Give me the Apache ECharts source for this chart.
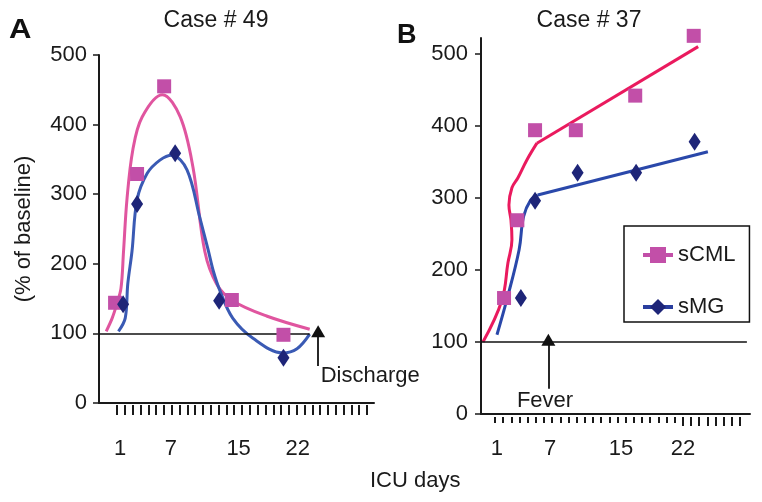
<!DOCTYPE html>
<html><head><meta charset="utf-8">
<script src="https://cdn.jsdelivr.net/npm/echarts@6/dist/echarts.min.js"></script>
<style>html,body{margin:0;padding:0;background:#fff}#c{width:762px;height:502px}</style>
</head><body><div id="c"></div>
<script>
const FONT = '"Liberation Sans", Arial, Helvetica, sans-serif';
const TXT = '#1a1a1a';

// shared tick labels
const yTickValues = [0, 100, 200, 300, 400, 500];
const xTickLabels = [1, 7, 15, 22];

// ---------- Panel A: Case # 49 ----------
const aCmlDays = [0.4, 3.0, 6.2, 14.2, 20.3];
const aCmlVals = [144, 329, 455, 148, 98];
const aMgDays  = [1.35, 3.0, 7.5, 12.7, 20.3];
const aMgVals  = [142, 286, 359, 147, 65];
// fitted curves
const aCmlFitDays = [-0.65, 0.06, 0.6, 1.1, 1.4, 1.8, 2.5, 3.6, 6.0, 8.1, 9.6, 11.0, 12.4, 14.3, 18.3, 23.4];
const aCmlFitVals = [103, 122, 142, 165, 218, 292, 364, 411, 443, 411, 339, 218, 171, 147, 125, 106];
const aMgFitDays  = [0.8, 1.6, 1.9, 2.4, 3.0, 4.2, 5.7, 7.1, 8.9, 10.4, 11.4, 12.0, 12.8, 14.3, 16.7, 20.2, 21.9, 23.4];
const aMgFitVals  = [103, 122, 171, 218, 292, 330, 349, 356, 335, 267, 220, 190, 161, 122, 93, 72, 78, 99];

// ---------- Panel B: Case # 37 ----------
const bCmlDays = [1.8, 3.3, 5.3, 9.9, 16.6, 23.2];
const bCmlVals = [161, 269, 394, 394, 442, 525];
const bMgDays  = [3.7, 5.3, 10.1, 16.7, 23.3];
const bMgVals  = [161, 296, 335, 335, 378];
const bCmlCurveDays = [-0.58, 1.56, 2.24, 2.69, 2.58, 2.35, 2.69, 3.37, 4.39, 5.51];
const bCmlCurveVals = [100, 158, 210, 242, 269, 290, 314, 328, 353, 376];
const bCmlLineDays  = [5.51, 23.7];
const bCmlLineVals  = [376, 510];
const bMgCurveDays  = [1.0, 2.1, 3.5, 4.0, 4.8, 5.6];
const bMgCurveVals  = [110, 158, 228, 274, 297, 304];
const bMgLineDays   = [5.6, 24.8];
const bMgLineVals   = [304, 364];

// annotations
const baseline = 100;
const dischargeDay = 24.4, feverDay = 6.8;

const zip = (xs, ys) => xs.map((x, i) => [x, ys[i]]);

const C_SQ = '#C24FA8', C_DM = '#1E2578';
const C_PINK_A = '#E0559F', C_BLUE_A = '#3A5AB4';
const C_PINK_B = '#EA1A5E', C_BLUE_B = '#2A48AA';

const chart = echarts.init(document.getElementById('c'), null, {renderer: 'canvas'});

const yAxisCommon = {
  type: 'value', min: 0, interval: 100, position: 'left',
  axisLine: {show: true, onZero: false, lineStyle: {color: TXT, width: 2}},
  axisTick: {show: true, length: 6, lineStyle: {color: TXT, width: 1.5}},
  splitLine: {show: false},
  axisLabel: {fontSize: 22, color: TXT, fontFamily: FONT,
    formatter: v => yTickValues.includes(v) ? String(v) : ''},
};
const xDataCommon = {
  type: 'value', position: 'bottom',
  axisLine: {show: true, onZero: false, lineStyle: {color: TXT, width: 2}},
  axisTick: {show: false},
  splitLine: {show: false},
  axisLabel: {customValues: xTickLabels, fontSize: 22, color: TXT, fontFamily: FONT},
};
const tickAxis = (grid, max, len, custom) => ({
  type: 'value', gridIndex: grid, min: 0, max: max, interval: 1, position: 'bottom',
  axisLine: {show: false, onZero: false},
  axisTick: Object.assign({show: true, inside: false, length: len, lineStyle: {color: TXT, width: 2}}, custom ? {customValues: custom} : {}),
  axisLabel: {show: false}, splitLine: {show: false},
});
const hiddenY = grid => ({type: 'value', gridIndex: grid, min: 0, max: 1, show: false});

const sym = (name, days, vals, symbol, size, color, xi, yi) => ({
  name, type: 'line', xAxisIndex: xi, yAxisIndex: yi, data: zip(days, vals),
  symbol, symbolSize: size, showSymbol: true, showAllSymbol: true, clip: false,
  lineStyle: {opacity: 0, width: 0}, itemStyle: {color: color, opacity: 1},
  z: 5, silent: true,
});
const curve = (name, days, vals, color, xi, yi, smooth) => ({
  name, type: 'line', xAxisIndex: xi, yAxisIndex: yi, data: zip(days, vals),
  smooth: smooth, showSymbol: false, symbol: 'none', clip: false,
  lineStyle: {color: color, width: 3}, itemStyle: {color: color}, z: 3, silent: true,
});
const refLine = (x0, x1) => ({
  silent: true, symbol: ['none', 'none'], animation: false,
  lineStyle: {color: '#111', width: 1.5, type: 'solid'}, label: {show: false},
  data: [[{coord: [x0, baseline]}, {coord: [x1, baseline]}]],
});
const arrow = (day, y0, y1) => ({
  silent: true, symbol: ['none', 'triangle'], symbolSize: [14, 12], animation: false,
  lineStyle: {color: '#111', width: 1.8, type: 'solid'}, itemStyle: {color: '#111'}, label: {show: false},
  data: [[{coord: [day, y0]}, {coord: [day, y1]}]],
});
const gridBase = {outerBoundsMode: 'none', containLabel: false};

const option = {
  animation: false,
  backgroundColor: '#fff',
  textStyle: {fontFamily: FONT},
  title: [
    {text: 'Case # 49', left: 216, top: 9, textAlign: 'center', padding: 0,
     textStyle: {fontSize: 23, fontWeight: 'normal', color: TXT, fontFamily: FONT}},
    {text: 'Case # 37', left: 589, top: 9, textAlign: 'center', padding: 0,
     textStyle: {fontSize: 23, fontWeight: 'normal', color: TXT, fontFamily: FONT}},
  ],
  graphic: [
    {type: 'text', left: 9, top: 17, style: {text: 'A', font: '900 27px ' + FONT, fill: '#111'}, scaleX: 1.15},
    {type: 'text', left: 397, top: 22, style: {text: 'B', font: '900 27px ' + FONT, fill: '#111'}},
    {type: 'text', left: 370, top: 470, style: {text: 'ICU days', font: '22px ' + FONT, fill: TXT}},
  ],
  legend: {
    orient: 'vertical', left: 624, top: 226,
    padding: [17, 14, 3, 17], itemGap: 28, itemWidth: 30, itemHeight: 20,
    borderColor: '#111', borderWidth: 1.5, borderRadius: 0,
    textStyle: {fontSize: 22, color: TXT, fontFamily: FONT, lineHeight: 24},
    selectedMode: false,
    data: [
      {name: 'sCML', itemStyle: {color: C_SQ}, lineStyle: {color: C_SQ, width: 4, opacity: 1}},
      {name: 'sMG', itemStyle: {color: C_DM}, lineStyle: {color: '#2A3E9E', width: 4, opacity: 1}},
    ],
  },
  grid: [
    Object.assign({left: 99, top: 55, width: 275, height: 348}, gridBase),
    Object.assign({left: 481, top: 38, width: 269, height: 376}, gridBase),
    Object.assign({left: 117, top: 57, width: 250, height: 348}, gridBase),
    Object.assign({left: 495, top: 41, width: 245, height: 376}, gridBase),
  ],
  xAxis: [
    Object.assign({}, xDataCommon, {gridIndex: 0, min: -1.5, max: 31, axisLabel: Object.assign({}, xDataCommon.axisLabel, {margin: 35})}),
    Object.assign({}, xDataCommon, {gridIndex: 1, min: -0.8, max: 29.55, axisLabel: Object.assign({}, xDataCommon.axisLabel, {margin: 24})}),
    tickAxis(2, 32, 10),
    tickAxis(3, 30, 6),
    tickAxis(3, 30, 9, [23, 24, 25, 26, 27, 28, 29, 30]),
  ],
  yAxis: [
    Object.assign({}, yAxisCommon, {gridIndex: 0, max: 500,
      axisLabel: Object.assign({}, yAxisCommon.axisLabel, {margin: 12}),
      name: '(% of baseline)', nameLocation: 'middle', nameRotate: 90, nameGap: 64,
      nameTextStyle: {fontSize: 22, color: TXT, fontFamily: FONT}}),
    Object.assign({}, yAxisCommon, {gridIndex: 1, max: 522,
      axisLabel: Object.assign({}, yAxisCommon.axisLabel, {margin: 13, showMaxLabel: false})}),
    hiddenY(2), hiddenY(3),
  ],
  series: [
    // Panel A curves
    Object.assign(curve('A sCML fit', aCmlFitDays, aCmlFitVals, C_PINK_A, 0, 0, 0.35), {
      markLine: refLine(-1.5, 23.4),
    }),
    Object.assign(curve('A sMG fit', aMgFitDays, aMgFitVals, C_BLUE_A, 0, 0, 0.35), {
      markLine: arrow(dischargeDay, 53, 103),
      markPoint: {silent: true, symbol: 'rect', symbolSize: 1, itemStyle: {color: 'rgba(0,0,0,0)'},
        label: {show: true, position: 'right', distance: 0, formatter: 'Discharge', fontSize: 22, color: TXT, fontFamily: FONT},
        data: [{coord: [24.64, 39]}]},
    }),
    sym('A sCML', aCmlDays, aCmlVals, 'rect', 14, C_SQ, 0, 0),
    sym('A sMG', aMgDays, aMgVals, 'diamond', [12, 18], C_DM, 0, 0),
    // Panel B
    Object.assign(curve('B sCML curve', bCmlCurveDays, bCmlCurveVals, C_PINK_B, 1, 1, 0.4), {
      markLine: refLine(-0.8, 29.2),
    }),
    curve('B sCML line', bCmlLineDays, bCmlLineVals, C_PINK_B, 1, 1, false),
    Object.assign(curve('B sMG curve', bMgCurveDays, bMgCurveVals, C_BLUE_B, 1, 1, 0.4), {
      markLine: arrow(feverDay, 35, 103),
      markPoint: {silent: true, symbol: 'rect', symbolSize: 1, itemStyle: {color: 'rgba(0,0,0,0)'},
        label: {show: true, position: 'inside', formatter: 'Fever', fontSize: 22, color: TXT, fontFamily: FONT},
        data: [{coord: [6.42, 18]}]},
    }),
    curve('B sMG line', bMgLineDays, bMgLineVals, C_BLUE_B, 1, 1, false),
    sym('sCML', bCmlDays, bCmlVals, 'rect', 14, C_SQ, 1, 1),
    sym('sMG', bMgDays, bMgVals, 'diamond', [12, 18], C_DM, 1, 1),
  ],
};
chart.setOption(option);
</script>
</body></html>
